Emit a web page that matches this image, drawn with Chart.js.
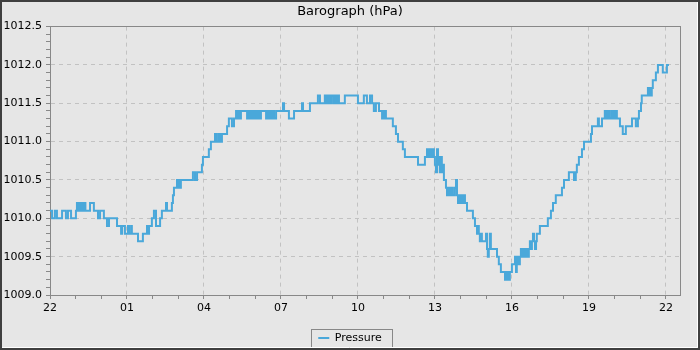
<!DOCTYPE html>
<html>
<head>
<meta charset="utf-8">
<script src="https://cdn.jsdelivr.net/npm/chart.js@4.4.1/dist/chart.umd.min.js"></script>
<style>
  html, body { margin: 0; padding: 0; background: #e6e6e6; }
  #c { display: block; }
</style>
</head>
<body>
<canvas id="c" width="700" height="350"></canvas>
<script>
// ---- data (hours after 22:00, pressure in hPa) ----
const chartTitle = 'Barograph (hPa)';
const seriesLabel = 'Pressure';
const xTickLabels = ['22', '01', '04', '07', '10', '13', '16', '19', '22'];
const yTickLabels = ['1009.0', '1009.5', '1010.0', '1010.5', '1011.0', '1011.5', '1012.0', '1012.5'];
const hours = [
  0.00, 0.08, 0.19, 0.27, 0.47, 0.62, 0.70, 0.82, 1.01, 1.05, 1.09, 1.13, 1.17, 1.21, 1.25, 1.32, 1.38, 1.56, 1.71, 1.87,
  1.95, 2.10, 2.22, 2.30, 2.61, 2.77, 2.81, 2.92, 3.04, 3.08, 3.16, 3.19, 3.43, 3.62, 3.78, 3.82, 3.86, 3.97, 4.05, 4.13,
  4.29, 4.36, 4.52, 4.56, 4.75, 4.79, 4.83, 4.95, 4.99, 5.03, 5.06, 5.10, 5.57, 5.65, 5.73, 5.92, 5.96, 6.19, 6.27, 6.43,
  6.47, 6.55, 6.58, 6.62, 6.66, 6.70, 6.90, 6.97, 7.09, 7.17, 7.25, 7.29, 7.36, 7.40, 7.44, 7.68, 7.75, 7.79, 7.83, 7.87,
  7.91, 7.95, 7.99, 8.03, 8.06, 8.10, 8.14, 8.18, 8.22, 8.42, 8.45, 8.49, 8.53, 8.57, 8.61, 8.65, 8.69, 8.73, 8.81, 9.08,
  9.12, 9.31, 9.51, 9.82, 9.86, 10.13, 10.44, 10.52, 10.71, 10.75, 10.79, 10.83, 10.87, 10.91, 10.95, 11.03, 11.06, 11.10, 11.14, 11.18,
  11.22, 11.26, 11.49, 12.00, 12.23, 12.35, 12.47, 12.55, 12.62, 12.70, 12.82, 12.94, 12.97, 13.01, 13.05, 13.09, 13.36, 13.48, 13.56, 13.75,
  13.83, 14.34, 14.61, 14.69, 14.73, 14.77, 14.81, 14.84, 14.88, 14.92, 14.96, 15.00, 15.04, 15.08, 15.12, 15.16, 15.19, 15.23, 15.27, 15.31,
  15.35, 15.43, 15.47, 15.51, 15.55, 15.58, 15.62, 15.66, 15.70, 15.78, 15.82, 15.86, 15.90, 15.94, 16.01, 16.05, 16.09, 16.13, 16.17, 16.25,
  16.48, 16.56, 16.64, 16.68, 16.71, 16.75, 16.79, 16.83, 16.99, 17.03, 17.06, 17.10, 17.14, 17.18, 17.42, 17.49, 17.57, 17.73, 17.77, 17.81,
  17.84, 17.88, 17.92, 18.00, 18.12, 18.16, 18.19, 18.23, 18.27, 18.31, 18.35, 18.39, 18.43, 18.47, 18.51, 18.55, 18.58, 18.62, 18.66, 18.70,
  18.74, 18.78, 18.82, 18.86, 18.90, 18.94, 18.97, 19.09, 19.40, 19.52, 19.60, 19.71, 19.95, 20.03, 20.22, 20.42, 20.49, 20.53, 20.61, 20.73,
  20.81, 21.08, 21.12, 21.35, 21.39, 21.51, 21.62, 21.66, 21.70, 21.74, 21.78, 21.82, 21.90, 21.94, 21.97, 22.01, 22.05, 22.09, 22.21, 22.32,
  22.44, 22.68, 22.83, 22.91, 22.95, 23.03, 23.06, 23.30, 23.34, 23.38, 23.42, 23.45, 23.49, 23.61, 23.69, 23.88, 24.04, 24.12
];
const pressure = [
  1010.1, 1010.0, 1010.1, 1010.0, 1010.1, 1010.0, 1010.1, 1010.0, 1010.1, 1010.2, 1010.1, 1010.2, 1010.1, 1010.2, 1010.1, 1010.2, 1010.1, 1010.2, 1010.1, 1010.0,
  1010.1, 1010.0, 1009.9, 1010.0, 1009.9, 1009.8, 1009.9, 1009.8, 1009.9, 1009.8, 1009.9, 1009.8, 1009.7, 1009.8, 1009.9, 1009.8, 1009.9, 1010.0, 1010.1, 1009.9,
  1010.0, 1010.1, 1010.2, 1010.1, 1010.2, 1010.3, 1010.4, 1010.5, 1010.4, 1010.5, 1010.4, 1010.5, 1010.6, 1010.5, 1010.6, 1010.7, 1010.8, 1010.9, 1011.0, 1011.1,
  1011.0, 1011.1, 1011.0, 1011.1, 1011.0, 1011.1, 1011.2, 1011.3, 1011.2, 1011.3, 1011.4, 1011.3, 1011.4, 1011.3, 1011.4, 1011.3, 1011.4, 1011.3, 1011.4, 1011.3,
  1011.4, 1011.3, 1011.4, 1011.3, 1011.4, 1011.3, 1011.4, 1011.3, 1011.4, 1011.3, 1011.4, 1011.3, 1011.4, 1011.3, 1011.4, 1011.3, 1011.4, 1011.3, 1011.4, 1011.5,
  1011.4, 1011.3, 1011.4, 1011.5, 1011.4, 1011.5, 1011.6, 1011.5, 1011.6, 1011.5, 1011.6, 1011.5, 1011.6, 1011.5, 1011.6, 1011.5, 1011.6, 1011.5, 1011.6, 1011.5,
  1011.6, 1011.5, 1011.6, 1011.5, 1011.6, 1011.5, 1011.6, 1011.5, 1011.4, 1011.5, 1011.4, 1011.3, 1011.4, 1011.3, 1011.4, 1011.3, 1011.2, 1011.1, 1011.0, 1010.9,
  1010.8, 1010.7, 1010.8, 1010.9, 1010.8, 1010.9, 1010.8, 1010.9, 1010.8, 1010.9, 1010.8, 1010.7, 1010.6, 1010.9, 1010.7, 1010.8, 1010.6, 1010.8, 1010.6, 1010.7,
  1010.5, 1010.4, 1010.3, 1010.4, 1010.3, 1010.4, 1010.3, 1010.4, 1010.3, 1010.4, 1010.5, 1010.3, 1010.2, 1010.3, 1010.2, 1010.3, 1010.2, 1010.3, 1010.2, 1010.1,
  1010.0, 1009.9, 1009.8, 1009.9, 1009.8, 1009.7, 1009.8, 1009.7, 1009.8, 1009.6, 1009.5, 1009.6, 1009.8, 1009.6, 1009.5, 1009.4, 1009.3, 1009.2, 1009.3, 1009.2,
  1009.3, 1009.2, 1009.3, 1009.4, 1009.5, 1009.3, 1009.4, 1009.5, 1009.4, 1009.5, 1009.6, 1009.5, 1009.6, 1009.5, 1009.6, 1009.5, 1009.6, 1009.5, 1009.6, 1009.7,
  1009.6, 1009.7, 1009.8, 1009.7, 1009.6, 1009.7, 1009.8, 1009.9, 1010.0, 1010.1, 1010.2, 1010.3, 1010.4, 1010.5, 1010.6, 1010.5, 1010.6, 1010.7, 1010.8, 1010.9,
  1011.0, 1011.1, 1011.2, 1011.3, 1011.2, 1011.3, 1011.4, 1011.3, 1011.4, 1011.3, 1011.4, 1011.3, 1011.4, 1011.3, 1011.4, 1011.3, 1011.4, 1011.3, 1011.2, 1011.1,
  1011.2, 1011.3, 1011.2, 1011.3, 1011.4, 1011.5, 1011.6, 1011.7, 1011.6, 1011.7, 1011.6, 1011.7, 1011.8, 1011.9, 1012.0, 1011.9, 1012.0, 1012.0
];

// ---- styles ----
const BG = '#e6e6e6';
const LINE = '#4aa8da';
const AXIS = '#888888';
const GRID = '#c2c2c2';

Chart.defaults.font.family = '"DejaVu Sans", "Liberation Sans", sans-serif';
Chart.defaults.color = '#000';

function align(px) { return Math.round(px - 0.5) + 0.5; }

const decor = {
  id: 'decor',
  beforeDraw(chart) {
    const ctx = chart.ctx;
    ctx.save();
    ctx.fillStyle = BG;
    ctx.fillRect(0, 0, chart.width, chart.height);
    ctx.restore();
  },
  afterLayout(chart) {
    // centre title and legend on the whole canvas, as in the reference
    if (chart.titleBlock) { chart.titleBlock.left += 9; chart.titleBlock.right += 9; }
    if (chart.legend) {
      chart.legend.top += 3.5; chart.legend.bottom += 3.5;
      chart.legend.left += 9; chart.legend.right += 9;
    }
  },
  beforeDatasetsDraw(chart) {
    const ca = chart.chartArea, ctx = chart.ctx;
    ctx.save();
    ctx.strokeStyle = AXIS;
    ctx.lineWidth = 1;
    const l = align(ca.left), r = align(ca.right), t = align(ca.top), b = align(ca.bottom);
    ctx.strokeRect(l, t, r - l, b - t);
    ctx.restore();
  },
  afterDraw(chart) {
    const ctx = chart.ctx;
    ctx.save();
    const hb = chart.legend && chart.legend.legendHitBoxes && chart.legend.legendHitBoxes[0];
    if (hb) {
      ctx.strokeStyle = AXIS;
      ctx.lineWidth = 1;
      const x1 = align(hb.left - 7), x2 = align(hb.left + hb.width + 11);
      const y1 = align(hb.top - 3.5), y2 = align(hb.top + hb.height + 3.5);
      ctx.strokeRect(x1, y1, x2 - x1, y2 - y1);
    }
    // outer etched border
    ctx.strokeStyle = '#ffffff';
    ctx.lineWidth = 1;
    ctx.beginPath();
    ctx.moveTo(2, chart.height - 2.5); ctx.lineTo(chart.width - 2.5, chart.height - 2.5); ctx.lineTo(chart.width - 2.5, 2);
    ctx.stroke();
    ctx.strokeStyle = '#3f3f3f';
    ctx.lineWidth = 2;
    ctx.strokeRect(1, 1, chart.width - 2, chart.height - 2);
    ctx.restore();
  }
};

const points = hours.map((h, i) => ({ x: h, y: pressure[i] }));

new Chart(document.getElementById('c'), {
  type: 'line',
  data: {
    datasets: [{
      label: seriesLabel,
      data: points,
      borderColor: LINE,
      backgroundColor: LINE,
      borderWidth: 2,
      pointRadius: 0,
      stepped: true,
      tension: 0,
      fill: false
    }]
  },
  options: {
    responsive: false,
    animation: false,
    devicePixelRatio: 1,
    layout: { padding: { left: 2, right: 20, top: 2, bottom: 0 } },
    scales: {
      x: {
        type: 'linear',
        min: 0,
        max: 24.55,
        afterBuildTicks(scale) {
          const t = [];
          for (let v = 0; v <= 24; v++) t.push({ value: v });
          scale.ticks = t;
        },
        afterFit(scale) { scale.height = 28; },
        ticks: {
          autoSkip: false,
          maxRotation: 0,
          padding: 3,
          font: { size: 11 },
          color: '#000',
          callback(v) { return v % 3 === 0 ? xTickLabels[v / 3] : ''; }
        },
        grid: {
          color(ctx) { return ctx.tick && ctx.tick.value % 3 === 0 ? GRID : 'rgba(0,0,0,0)'; },
          tickColor: AXIS,
          tickLength: 4,
          lineWidth: 1
        },
        border: { display: true, color: AXIS, width: 1, dash: [4, 4] }
      },
      y: {
        type: 'linear',
        min: 1009.0,
        max: 1012.5,
        afterBuildTicks(scale) {
          const t = [];
          for (let i = 0; i <= 35; i++) t.push({ value: Math.round((1009 + i * 0.1) * 10) / 10 });
          scale.ticks = t;
        },
        afterFit(scale) { scale.width = 48; },
        ticks: {
          autoSkip: false,
          padding: 4,
          font: { size: 11 },
          color: '#000',
          callback(v) {
            const k = Math.round(v * 10) - 10090;
            return k % 5 === 0 ? yTickLabels[k / 5] : '';
          }
        },
        grid: {
          color(ctx) {
            if (!ctx.tick) return 'rgba(0,0,0,0)';
            return (Math.round(ctx.tick.value * 10) % 5 === 0) ? GRID : 'rgba(0,0,0,0)';
          },
          tickColor: AXIS,
          tickLength: 4,
          lineWidth: 1
        },
        border: { display: true, color: AXIS, width: 1, dash: [4, 4] }
      }
    },
    plugins: {
      title: {
        display: true,
        text: chartTitle,
        color: '#000',
        font: { size: 13, weight: 'normal' },
        padding: { top: 2, bottom: 7 }
      },
      legend: {
        display: true,
        position: 'bottom',
        labels: {
          boxWidth: 11,
          boxHeight: 2,
          padding: 6,
          color: '#000',
          font: { size: 11 },
          generateLabels(chart) {
            return chart.data.datasets.map((ds, i) => ({
              text: ds.label, fillStyle: ds.borderColor, strokeStyle: ds.borderColor,
              lineWidth: 0, hidden: false, datasetIndex: i
            }));
          }
        }
      },
      tooltip: { enabled: false }
    }
  },
  plugins: [decor]
});
</script>
</body>
</html>
